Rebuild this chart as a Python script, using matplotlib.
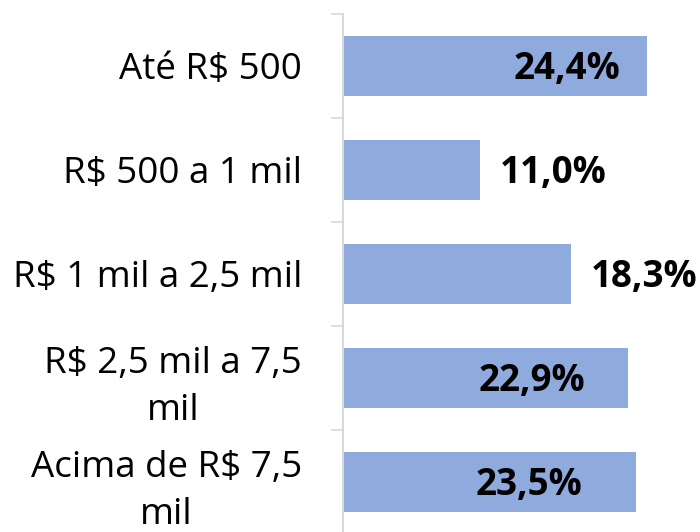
import matplotlib
matplotlib.use("Agg")
import matplotlib.pyplot as plt
import numpy as np

categories = ["Até R$ 500", "R$ 500 a 1 mil", "R$ 1 mil a 2,5 mil",
              "R$ 2,5 mil a 7,5\nmil", "Acima de R$ 7,5\nmil"]
values = [24.4, 11.0, 18.3, 22.9, 23.5]
value_labels = ["24,4%", "11,0%", "18,3%", "22,9%", "23,5%"]

# label layout (pixel offset from bar end, alignment)
label_offsets = [-27, 20, 20, -43, -53]
label_ha = ["right", "left", "left", "right", "right"]

plt.rcParams['font.family'] = ['Open Sans', 'DejaVu Sans']

W, H = 700, 532
fig = plt.figure(figsize=(7, 5.32), dpi=100)
ax_left, ax_top, ax_bottom = 343, 14, 534
ax_right = 343 + 28 * 12.46
ax = fig.add_axes([ax_left / W, (H - ax_bottom) / H,
                   (ax_right - ax_left) / W, (ax_bottom - ax_top) / H])

y = np.arange(len(categories))
ax.barh(y, values, height=0.57, color="#8FAADC", zorder=2)
ax.set_xlim(0, 28)
ax.set_ylim(len(categories) - 0.5, -0.5)

for i, (v, lab) in enumerate(zip(values, value_labels)):
    ax.annotate(lab, xy=(v, i), xytext=(label_offsets[i], -13.5),
                textcoords="offset pixels", ha=label_ha[i], va="baseline",
                fontsize=26.5, fontweight="bold", color="black")

ax.set_yticks(y)
ax.set_yticklabels(categories, fontsize=26.5, color="black",
                   multialignment="center", linespacing=1.4)
ax.tick_params(axis="y", which="major", length=0, pad=29.5)
ax.set_yticks(np.arange(-0.5, len(categories), 1.0), minor=True)
ax.tick_params(axis="y", which="minor", length=9, width=1.2, color="#D9D9D9")
ax.set_xticks([])

for s in ["top", "right", "bottom"]:
    ax.spines[s].set_visible(False)
ax.spines["left"].set_color("#D9D9D9")
ax.spines["left"].set_linewidth(1.5)

fig.savefig("out.png", dpi=100)
